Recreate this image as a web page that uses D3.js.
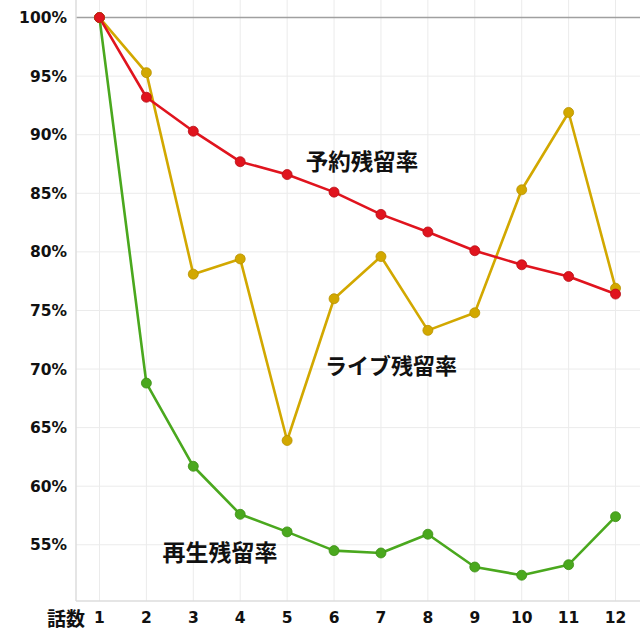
<!DOCTYPE html>
<html><head><meta charset="utf-8">
<script src="https://cdn.jsdelivr.net/npm/d3@7"></script>
<style>body{margin:0;background:#fff}svg{display:block}</style>
</head><body>
<svg id="c" width="640" height="640"></svg>
<script>
const episodes = [1,2,3,4,5,6,7,8,9,10,11,12];
const reservation = [100, 93.2, 90.3, 87.7, 86.6, 85.1, 83.2, 81.7, 80.1, 78.9, 77.9, 76.4];
const live = [100, 95.3, 78.1, 79.4, 63.9, 76.0, 79.6, 73.3, 74.8, 85.3, 91.9, 76.9];
const playback = [100, 68.8, 61.7, 57.6, 56.1, 54.5, 54.3, 55.9, 53.1, 52.4, 53.3, 57.4];
const seriesNames = ["予約残留率", "ライブ残留率", "再生残留率"];
const yTicks = [55, 60, 65, 70, 75, 80, 85, 90, 95, 100];
const xTitle = "話数";

(function () {
const svg = d3.select("#c");
const pl = 76, pr = 639, pt = 0, pb = 601;
const x = d3.scalePoint().domain(episodes).range([pl, pr]).padding(0.5);
const y = d3.scaleLinear().domain([50.2, 101.5]).range([pb, pt]);

const g = svg.append("g");
g.selectAll(".vg").data(episodes).join("line")
  .attr("x1", d => x(d)).attr("x2", d => x(d)).attr("y1", pt).attr("y2", pb)
  .attr("stroke", "#ebebeb").attr("stroke-width", 1);
g.selectAll(".hg").data(yTicks.filter(d => d !== 100)).join("line")
  .attr("x1", pl).attr("x2", 640).attr("y1", d => y(d)).attr("y2", d => y(d))
  .attr("stroke", "#ebebeb").attr("stroke-width", 1);
g.append("line").attr("x1", pl).attr("x2", 640).attr("y1", y(100)).attr("y2", y(100))
  .attr("stroke", "#a0a0a0").attr("stroke-width", 1.5);
g.append("line").attr("x1", pl).attr("x2", pl).attr("y1", pt).attr("y2", pb)
  .attr("stroke", "#dcdcdc").attr("stroke-width", 1.5);
g.append("line").attr("x1", pl).attr("x2", 640).attr("y1", pb).attr("y2", pb)
  .attr("stroke", "#dcdcdc").attr("stroke-width", 1.5);

const tickFont = "DejaVu Sans, Verdana, sans-serif";
svg.append("g").selectAll("text").data(yTicks).join("text")
  .attr("x", 67).attr("y", d => y(d)).attr("dy", "0.36em").attr("text-anchor", "end")
  .attr("font-family", tickFont).attr("font-weight", "bold").attr("font-size", 15.5).attr("fill", "#111")
  .text(d => d + "%");
svg.append("g").selectAll("text").data(episodes).join("text")
  .attr("x", d => x(d)).attr("y", 617).attr("dy", "0.36em").attr("text-anchor", "middle")
  .attr("font-family", tickFont).attr("font-weight", "bold").attr("font-size", 15.5).attr("fill", "#111")
  .text(d => d);
svg.append("text").attr("x", 66).attr("y", 619).attr("dy", "0.36em").attr("text-anchor", "middle")
  .attr("font-family", "Noto Sans CJK JP").attr("font-weight", "bold").attr("font-size", 19).attr("fill", "#111")
  .text(xTitle);

const series = [
  {name: seriesNames[2], values: playback, color: "#4aa81e", stroke: "#3d8f17", lx: 220, ly: 553, fs: 23},
  {name: seriesNames[1], values: live, color: "#d2a800", stroke: "#b89200", lx: 391, ly: 366, fs: 22},
  {name: seriesNames[0], values: reservation, color: "#e0141e", stroke: "#b80f17", lx: 362, ly: 162, fs: 22.5},
];
const line = d3.line().x((d, i) => x(episodes[i])).y(d => y(d));
series.forEach(s => {
  svg.append("path").attr("d", line(s.values)).attr("fill", "none")
    .attr("stroke", s.color).attr("stroke-width", 2.6).attr("stroke-linejoin", "round");
});
series.forEach(s => {
  svg.append("g").selectAll("circle").data(s.values).join("circle")
    .attr("cx", (d, i) => x(episodes[i])).attr("cy", d => y(d)).attr("r", 5)
    .attr("fill", s.color).attr("stroke", s.stroke).attr("stroke-width", 0.8);
});
series.forEach(s => {
  svg.append("text").attr("x", s.lx).attr("y", s.ly).attr("dy", "0.36em").attr("text-anchor", "middle")
    .attr("font-family", "Noto Sans CJK JP").attr("font-weight", "bold").attr("font-size", s.fs).attr("fill", "#111")
    .text(s.name);
});
})();
</script>
</body></html>
